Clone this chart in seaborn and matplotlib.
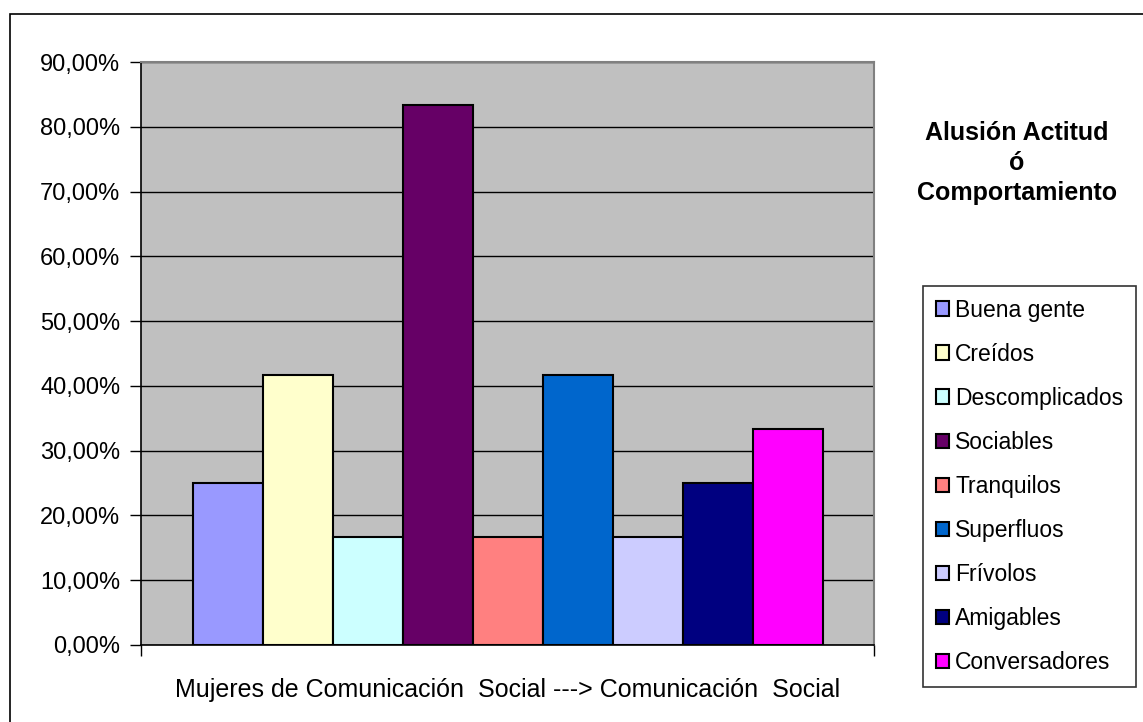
import matplotlib
matplotlib.use("Agg")
import matplotlib.pyplot as plt
import matplotlib.patches as mpatches
from matplotlib.ticker import FuncFormatter, MultipleLocator
import seaborn as sns

# Datos
categorias = ['Buena gente', 'Creídos', 'Descomplicados', 'Sociables', 'Tranquilos',
              'Superfluos', 'Frívolos', 'Amigables', 'Conversadores']
porcentajes = [25.0, 41.67, 16.67, 83.33, 16.67, 41.67, 16.67, 25.0, 33.33]
colores = ['#9999FF', '#FFFFCC', '#CCFFFF', '#660066', '#FF8080',
           '#0066CC', '#CCCCFF', '#000080', '#FF00FF']

sns.set_theme(style="white")
plt.rcParams['font.family'] = ['Liberation Sans', 'DejaVu Sans']

fig = plt.figure(figsize=(11.43, 7.22), dpi=100)
ax = fig.add_axes([141 / 1143, 77 / 722, 733 / 1143, 583 / 722])
ax.set_facecolor('#C0C0C0')

sns.barplot(x=categorias, y=porcentajes, hue=categorias, palette=colores,
            order=categorias, hue_order=categorias, width=1, dodge=False, saturation=1,
            edgecolor='black', linewidth=1.5, legend=True, ax=ax, zorder=3)

# Limites y rejilla
ax.set_ylim(0, 90)
ax.set_xlim(-1.243, 9.229)
ax.yaxis.set_major_locator(MultipleLocator(10))
ax.yaxis.set_major_formatter(FuncFormatter(lambda v, p: f'{v:.2f}%'.replace('.', ',')))
ax.grid(axis='y', color='black', linewidth=1, zorder=0)
ax.set_axisbelow(True)

ax.set_xticks([-1.243, 9.229])
ax.set_xticklabels(['', ''])
ax.tick_params(axis='x', direction='out', length=8, width=1, color='black', bottom=True)
ax.tick_params(axis='y', direction='out', length=8, width=1, color='black', left=True,
               labelsize=17, pad=7, labelcolor='black')

for lado in ['left', 'bottom']:
    ax.spines[lado].set_color('black')
    ax.spines[lado].set_linewidth(1.2)
for lado in ['top', 'right']:
    ax.spines[lado].set_color('#808080')
    ax.spines[lado].set_linewidth(1.5)

ax.set_ylabel('')
ax.set_xlabel('Mujeres de Comunicación  Social ---> Comunicación  Social', fontsize=18,
              labelpad=12, color='black')

# Leyenda
handles, labels = ax.get_legend_handles_labels()
ax.get_legend().remove()
leg = fig.legend(handles, labels, loc='upper left', bbox_to_anchor=(923 / 1143, 1 - 286 / 722),
                 fontsize=16.5, frameon=True, fancybox=False, edgecolor='black',
                 handlelength=0.6, handleheight=0.6, handletextpad=0.25,
                 labelspacing=0.92, borderpad=0.55, borderaxespad=0)
leg.get_frame().set_linewidth(1.2)
for t in leg.get_texts():
    t.set_color('black')

fig.text(1017 / 1143, 1 - 163 / 722, 'Alusión Actitud\nó\nComportamiento', ha='center',
         va='center', fontsize=18, fontweight='bold', linespacing=1.32, color='black')

# Marco exterior
fig.patches.append(mpatches.Rectangle((10 / 1143, -0.05), 1.1, 1 - 14 / 722 + 0.05,
                                      transform=fig.transFigure, fill=False,
                                      edgecolor='black', linewidth=1.2))

fig.savefig('out.png', dpi=100, facecolor='white')
